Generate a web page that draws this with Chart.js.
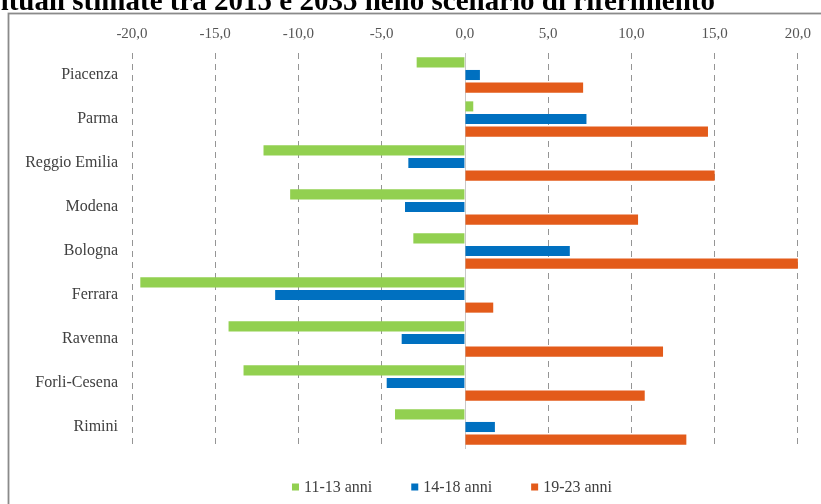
<!DOCTYPE html>
<html>
<head>
<meta charset="utf-8">
<script src="https://cdn.jsdelivr.net/npm/chart.js@4/dist/chart.umd.min.js"></script>
<style>
  html, body { margin: 0; padding: 0; background: #ffffff; }
  #wrap { width: 821px; height: 504px; position: relative; overflow: hidden; }
</style>
</head>
<body>
<div id="wrap"><canvas id="c" width="821" height="504"></canvas></div>
<script>
// Variazioni percentuali della popolazione per classe d'età, per provincia
const titleText = 'Variazioni percentuali stimate tra 2015 e 2035 nello scenario di riferimento';
const provinces = ['Piacenza', 'Parma', 'Reggio Emilia', 'Modena', 'Bologna', 'Ferrara', 'Ravenna', 'Forli-Cesena', 'Rimini'];
const seriesLabels = ['11-13 anni', '14-18 anni', '19-23 anni'];
const age11to13 = [-2.9, 0.5, -12.1, -10.5, -3.1, -19.5, -14.2, -13.3, -4.2];
const age14to18 = [0.9, 7.3, -3.4, -3.6, 6.3, -11.4, -3.8, -4.7, 1.8];
const age19to23 = [7.1, 14.6, 15.0, 10.4, 20.0, 1.7, 11.9, 10.8, 13.3];
const xTicks = [-20, -15, -10, -5, 0, 5, 10, 15, 20];

const colors = ['#92d050', '#0070c0', '#e35b1a'];
const serif = '"Liberation Serif", "Times New Roman", serif';

// white page with a grey frame around the plot
const framePlugin = {
  id: 'frame',
  beforeDraw(chart) {
    const ctx = chart.ctx;
    ctx.save();
    ctx.fillStyle = '#ffffff';
    ctx.fillRect(0, 0, chart.width, chart.height);
    ctx.strokeStyle = '#8a8a8a';
    ctx.lineWidth = 1.8;
    ctx.strokeRect(8.5, 13.5, chart.width + 20, chart.height + 20);
    ctx.restore();
  }
};

// bold heading above the frame
const headingPlugin = {
  id: 'heading',
  afterDraw(chart) {
    const ctx = chart.ctx;
    ctx.save();
    ctx.font = 'bold 29px ' + serif;
    ctx.fillStyle = '#000000';
    ctx.textAlign = 'right';
    ctx.textBaseline = 'alphabetic';
    ctx.fillText(titleText, 715, 10);
    ctx.restore();
  }
};

// solid vertical axis line at zero
const zeroLinePlugin = {
  id: 'zeroLine',
  beforeDatasetsDraw(chart) {
    const x = Math.round(chart.scales.x.getPixelForValue(0)) + 0.5;
    const a = chart.chartArea;
    const ctx = chart.ctx;
    ctx.save();
    ctx.strokeStyle = '#c8c8c8';
    ctx.lineWidth = 1;
    ctx.beginPath();
    ctx.moveTo(x, a.top);
    ctx.lineTo(x, a.bottom);
    ctx.stroke();
    ctx.restore();
  }
};

// legend row under the plot, centred on the plot area
const legendRowPlugin = {
  id: 'legendRow',
  afterDraw(chart) {
    const ctx = chart.ctx;
    const box = 7, gap = 5, spacing = 39;
    ctx.save();
    ctx.font = '16px ' + serif;
    const items = chart.data.datasets.map(d => ({ label: d.label, color: d.backgroundColor, w: ctx.measureText(d.label).width }));
    const total = items.reduce((s, it) => s + box + gap + it.w, 0) + spacing * (items.length - 1);
    let x = 452 - total / 2;
    const y = 487;
    ctx.textBaseline = 'middle';
    ctx.textAlign = 'left';
    items.forEach(it => {
      ctx.fillStyle = it.color;
      ctx.fillRect(x, y - box / 2, box, box);
      ctx.fillStyle = '#404040';
      ctx.fillText(it.label, x + box + gap, y + 1);
      x += box + gap + it.w + spacing;
    });
    ctx.restore();
  }
};

const fmt = v => v.toFixed(1).replace('.', ',');

new Chart(document.getElementById('c'), {
  type: 'bar',
  data: {
    labels: provinces,
    datasets: [
      { label: seriesLabels[0], data: age11to13, backgroundColor: colors[0] },
      { label: seriesLabels[1], data: age14to18, backgroundColor: colors[1] },
      { label: seriesLabels[2], data: age19to23, backgroundColor: colors[2] }
    ]
  },
  options: {
    indexAxis: 'y',
    responsive: false,
    animation: false,
    devicePixelRatio: 1,
    categoryPercentage: 0.86,
    barPercentage: 0.8,
    layout: { padding: { left: 0, right: 22, top: 0, bottom: 55 } },
    plugins: {
      legend: { display: false },
      title: { display: false },
      tooltip: { enabled: false }
    },
    scales: {
      x: {
        position: 'top',
        min: -20,
        max: 20,
        afterBuildTicks(scale) { scale.ticks = xTicks.map(v => ({ value: v })); },
        afterFit(scale) { scale.height = 53; },
        ticks: {
          color: '#555555',
          font: { family: serif, size: 15 },
          padding: 10,
          maxRotation: 0,
          callback: v => fmt(v)
        },
        grid: {
          drawTicks: false,
          color: ctx => (ctx.tick && ctx.tick.value === 0) ? 'rgba(0,0,0,0)' : '#959595',
          lineWidth: 1
        },
        border: { display: false, dash: [6, 5] }
      },
      y: {
        afterFit(scale) { scale.width = 132; },
        ticks: {
          color: '#404040',
          font: { family: serif, size: 16 },
          padding: 14
        },
        grid: { display: false, drawTicks: false },
        border: { display: false }
      }
    }
  },
  plugins: [framePlugin, zeroLinePlugin, headingPlugin, legendRowPlugin]
});
</script>
</body>
</html>
